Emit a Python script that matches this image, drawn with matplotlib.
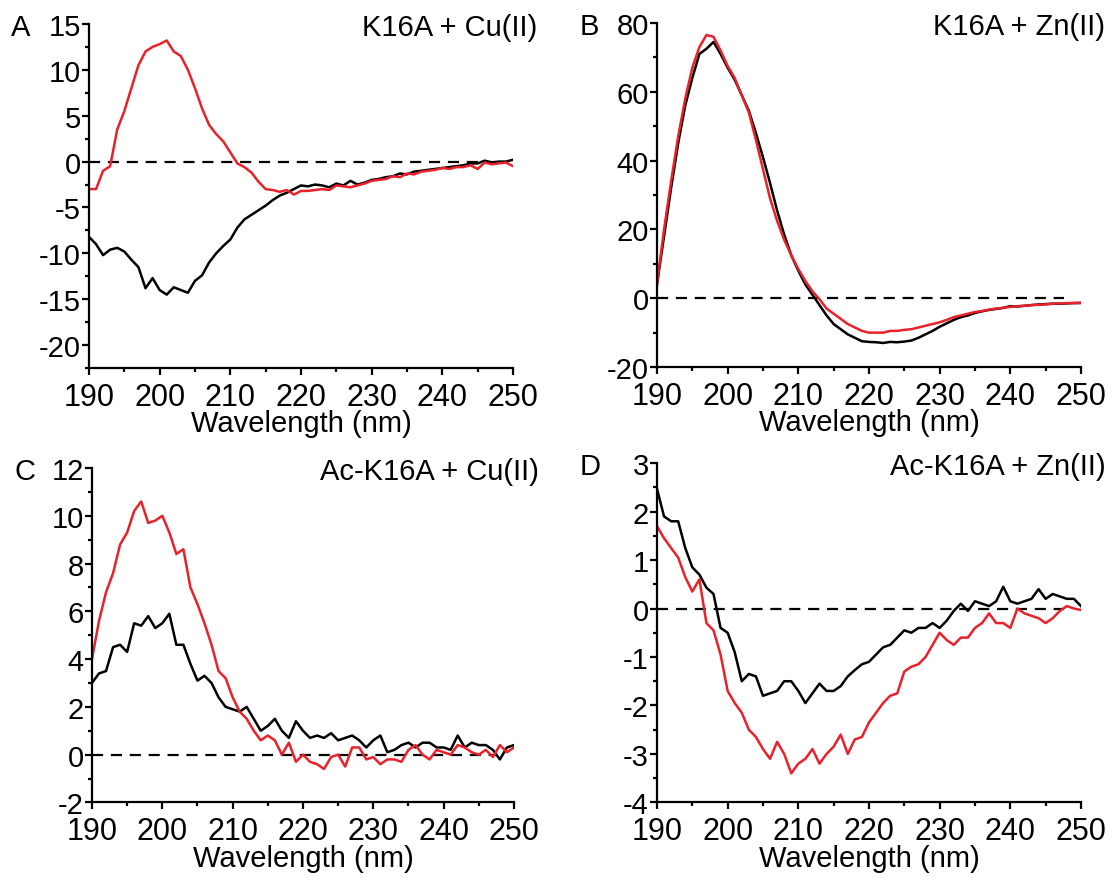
import numpy as np
import matplotlib
matplotlib.use("Agg")
from matplotlib import pyplot as plt
from matplotlib.ticker import MultipleLocator

plt.rcParams["font.family"] = ["Liberation Sans", "DejaVu Sans"]
plt.rcParams["axes.unicode_minus"] = False

wavelength = np.arange(190, 251, 1)

# A: K16A + Cu(II)
a_black = [-8.2, -9.0, -10.2, -9.6, -9.4, -9.8, -10.7, -11.5, -13.8, -12.7,
           -14.0, -14.5, -13.7, -14.0, -14.3, -13.0, -12.4, -11.0, -10.0, -9.2,
           -8.5, -7.2, -6.3, -5.8, -5.3, -4.8, -4.2, -3.7, -3.4, -3.0,
           -2.6, -2.7, -2.5, -2.6, -2.8, -2.4, -2.6, -2.1, -2.5, -2.3,
           -2.0, -1.9, -1.7, -1.6, -1.3, -1.4, -1.1, -1.0, -0.9, -0.8,
           -0.7, -0.6, -0.5, -0.4, -0.2, -0.2, 0.1, -0.1, 0.0, 0.0, 0.2]
a_red = [-3.0, -3.0, -1.0, -0.5, 3.5, 5.5, 8.0, 10.5, 12.0, 12.5,
         12.8, 13.2, 12.0, 11.5, 10.0, 8.0, 5.8, 4.0, 3.0, 2.2,
         1.0, -0.2, -0.6, -1.2, -2.2, -3.0, -3.1, -3.3, -3.1, -3.6,
         -3.2, -3.2, -3.1, -3.0, -3.1, -2.6, -2.7, -2.8, -2.6, -2.4,
         -2.1, -2.0, -1.9, -1.6, -1.7, -1.3, -1.4, -1.1, -1.0, -0.9,
         -0.7, -0.8, -0.6, -0.6, -0.4, -0.8, -0.1, -0.3, -0.2, -0.1, -0.5]

# B: K16A + Zn(II)
b_black = [4, 18, 32, 45, 56, 64, 71, 72.5, 74.5, 71,
           67, 63.5, 59, 54.5, 48, 41, 33.5, 25.5, 18.5, 12.5,
           8, 4, 1, -2, -5, -7.5, -9, -10.5, -11.5, -12.5,
           -12.7, -12.8, -13, -12.7, -12.8, -12.6, -12.3, -11.5, -10.5, -9.5,
           -8.3, -7.3, -6.3, -5.5, -5, -4.3, -3.8, -3.4, -3.1, -2.8,
           -2.3, -2.4, -2.2, -2, -1.8, -1.7, -1.6, -1.6, -1.5, -1.4, -1.4]
b_red = [4, 20, 34, 47, 58, 67, 73, 76.5, 76, 72,
         67.5, 64, 59, 54, 46, 37.5, 29, 22.5, 17, 12.5,
         8.5, 5, 2, -0.3, -3, -4.5, -6, -7.5, -8.5, -9.5,
         -10, -10, -10, -9.5, -9.5, -9.2, -9, -8.5, -8, -7.5,
         -7, -6.3, -5.5, -5, -4.5, -4, -3.7, -3.3, -3, -2.8,
         -2.5, -2.3, -2.2, -2, -1.9, -1.8, -1.6, -1.5, -1.4, -1.4, -1.3]

# C: Ac-K16A + Cu(II)
c_black = [3.0, 3.4, 3.5, 4.5, 4.6, 4.3, 5.5, 5.4, 5.8, 5.3,
           5.5, 5.9, 4.6, 4.6, 3.8, 3.1, 3.3, 3.0, 2.4, 2.0,
           1.9, 1.8, 2.0, 1.5, 1.0, 1.2, 1.5, 1.0, 0.7, 1.4,
           1.0, 0.7, 0.8, 0.7, 0.9, 0.6, 0.7, 0.8, 0.6, 0.3,
           0.6, 0.8, 0.1, 0.2, 0.4, 0.5, 0.3, 0.5, 0.5, 0.3,
           0.3, 0.2, 0.8, 0.3, 0.5, 0.4, 0.4, 0.2, -0.2, 0.3, 0.4]
c_red = [4.0, 5.6, 6.8, 7.6, 8.8, 9.3, 10.2, 10.6, 9.7, 9.8,
         10.0, 9.3, 8.4, 8.6, 7.0, 6.3, 5.5, 4.6, 3.5, 3.2,
         2.4, 1.8, 1.5, 1.0, 0.6, 0.8, 0.6, 0.0, 0.5, -0.3,
         0.0, -0.3, -0.4, -0.6, -0.1, 0.0, -0.5, 0.3, 0.3, -0.2,
         -0.1, -0.4, -0.2, -0.2, -0.3, 0.2, 0.4, 0.0, -0.2, 0.2,
         0.1, 0.0, 0.4, 0.3, 0.1, 0.0, 0.2, -0.1, 0.4, 0.1, 0.3]

# D: Ac-K16A + Zn(II)
d_black = [2.47, 1.9, 1.8, 1.8, 1.25, 0.85, 0.7, 0.43, 0.3, -0.4,
           -0.5, -0.9, -1.5, -1.35, -1.4, -1.8, -1.75, -1.7, -1.5, -1.5,
           -1.7, -1.95, -1.75, -1.55, -1.7, -1.7, -1.6, -1.4, -1.27, -1.15,
           -1.1, -0.95, -0.8, -0.75, -0.6, -0.45, -0.5, -0.4, -0.4, -0.3,
           -0.4, -0.25, -0.05, 0.1, -0.05, 0.15, 0.1, 0.05, 0.15, 0.45,
           0.15, 0.1, 0.15, 0.2, 0.4, 0.2, 0.3, 0.25, 0.2, 0.2, 0.05]
d_red = [1.7, 1.45, 1.25, 1.05, 0.65, 0.35, 0.6, -0.3, -0.45, -0.95,
         -1.7, -1.95, -2.15, -2.5, -2.65, -2.9, -3.1, -2.75, -3.0, -3.4,
         -3.2, -3.1, -2.9, -3.2, -3.0, -2.85, -2.6, -3.0, -2.7, -2.65,
         -2.35, -2.15, -1.95, -1.8, -1.75, -1.3, -1.2, -1.15, -1.0, -0.75,
         -0.5, -0.65, -0.75, -0.6, -0.6, -0.4, -0.3, -0.1, -0.3, -0.3,
         -0.4, 0.0, -0.1, -0.15, -0.2, -0.3, -0.2, -0.05, 0.05, 0.0, -0.03]

panels = [
    # letter, title, black, red, ylim, major, minor, axes rect
    ("A", "K16A + Cu(II)", a_black, a_red, (-22.5, 15), 5, 2.5,
     [0.0800, 0.5802, 0.3813, 0.3914]),
    ("B", "K16A + Zn(II)", b_black, b_red, (-20, 80), 20, 10,
     [0.5908, 0.5813, 0.3813, 0.3914]),
    ("C", "Ac-K16A + Cu(II)", c_black, c_red, (-2, 12), 2, 1,
     [0.0827, 0.0860, 0.3795, 0.3804]),
    ("D", "Ac-K16A + Zn(II)", d_black, d_red, (-4, 3), 1, 0.5,
     [0.5908, 0.0860, 0.3813, 0.3860]),
]

red = "#e8212b"
fig = plt.figure(figsize=(11.12, 8.79), dpi=100)

for letter, title, black_y, red_y, ylim, major, minor, rect in panels:
    ax = fig.add_axes(rect)
    ax.axhline(0, xmin=0, xmax=0.96, color="black", lw=1.6, ls=(0, (5, 3.5)))
    ax.plot(wavelength, black_y, color="black", lw=1.8)
    ax.plot(wavelength, red_y, color=red, lw=1.8)
    ax.set_xlim(190, 250)
    ax.set_ylim(*ylim)
    ax.xaxis.set_major_locator(MultipleLocator(10))
    ax.xaxis.set_minor_locator(MultipleLocator(5))
    ax.yaxis.set_major_locator(MultipleLocator(major))
    ax.yaxis.set_minor_locator(MultipleLocator(minor))
    for side in ["top", "right"]:
        ax.spines[side].set_visible(False)
    for side in ["left", "bottom"]:
        ax.spines[side].set_linewidth(1.6)
    ax.tick_params(which="major", length=5, width=1.6, labelsize=21, pad=1)
    ax.tick_params(which="minor", length=3, width=1.6)
    ax.tick_params(axis="x", labelsize=22, pad=5)
    ax.set_xlabel("Wavelength (nm)", fontsize=21, labelpad=-2)

    x0, y0, w, h = rect
    top = y0 + h
    fig.text(x0 - 0.070, top + 0.013, letter, fontsize=21, va="top", ha="left")
    fig.text(x0 + w + 0.022, top + 0.013, title, fontsize=21, va="top", ha="right")

fig.savefig("out.png", dpi=100)
